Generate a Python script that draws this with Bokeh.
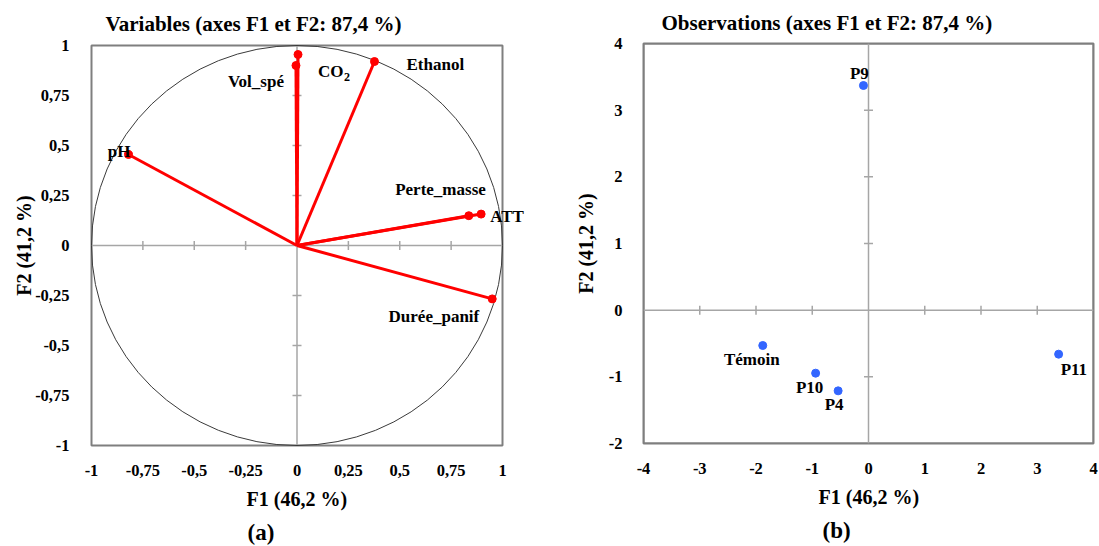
import math
from bokeh.plotting import figure
from bokeh.models import (ColumnDataSource, Range1d, FixedTicker, CustomJSTickFormatter,
                          Title, LabelSet)
from bokeh.layouts import row
from bokeh.embed import file_html
from bokeh.resources import INLINE

# ---- data: variables (correlation circle) ----
variables = ["Vol_spé", "CO₂", "Ethanol", "pH", "Perte_masse", "ATT", "Durée_panif"]
var_f1 = [-0.005, 0.005, 0.377, -0.82, 0.836, 0.896, 0.95]
var_f2 = [0.90, 0.955, 0.92, 0.455, 0.149, 0.157, -0.267]

# ---- data: observations ----
observations = ["P9", "Témoin", "P10", "P4", "P11"]
obs_f1 = [-0.09, -1.88, -0.94, -0.54, 3.38]
obs_f2 = [3.37, -0.53, -0.945, -1.21, -0.66]

# ---- tick labels ----
var_ticks = [-1, -0.75, -0.5, -0.25, 0, 0.25, 0.5, 0.75, 1]
obs_xticks = [-4, -3, -2, -1, 0, 1, 2, 3, 4]
obs_yticks = [-2, -1, 0, 1, 2, 3, 4]

# ---- label placement (styling; offsets in px, y positive = up) ----
var_align = ["right", "left", "left", "right", "right", "left", "right"]
var_dx = [-12, 20, 32, 2, 17, 9, -13]
var_dy = [-16, -17, -3, 3, 26, -2, -18]
obs_align = ["center", "center", "center", "center", "left"]
obs_dx = [-4, -11, -6, -4, 2]
obs_dy = [12, -14, -14, -14, -15]

FONT = "Liberation Serif"
FRAME = "#7f7f7f"
AXIS0 = "#a6a6a6"
comma_fmt = CustomJSTickFormatter(code="return tick.toString().replace('.', ',');")
plain_fmt = CustomJSTickFormatter(code="return tick.toString();")


def tfont(**kw):
    d = dict(text_font=FONT, text_font_style="bold", text_color="black")
    d.update(kw)
    return d


def style(p, title_offset, title_standoff):
    p.outline_line_color = None
    p.xgrid.visible = False
    p.ygrid.visible = False
    p.title.align = "left"
    p.title.offset = title_offset
    p.title.text_font = FONT
    p.title.text_font_size = "21px"
    p.title.text_font_style = "bold"
    p.title.text_color = "black"
    p.title.standoff = title_standoff
    for ax in (p.xaxis[0], p.yaxis[0]):
        ax.axis_line_color = None
        ax.major_tick_line_color = None
        ax.minor_tick_line_color = None
        ax.major_label_text_font = FONT
        ax.major_label_text_font_size = "16.5px"
        ax.major_label_text_font_style = "bold"
        ax.major_label_text_color = "black"
        ax.axis_label_text_font = FONT
        ax.axis_label_text_font_size = "20px"
        ax.axis_label_text_font_style = "bold"
        ax.axis_label_text_color = "black"


def bottom_titles(p, offset_f1, offset_sub, sub):
    p.add_layout(Title(text="F1 (46,2 %)", align="left", offset=offset_f1, standoff=15,
                       **tfont(text_font_size="20px")), "below")
    p.add_layout(Title(text=sub, align="left", offset=offset_sub, standoff=0,
                       **tfont(text_font_size="23px")), "below")


def cross_axes(p, xticks, yticks):
    x0, x1, y0, y1 = min(xticks), max(xticks), min(yticks), max(yticks)
    # plot frame
    p.quad(left=x0, right=x1, bottom=y0, top=y1, fill_color=None, line_color=FRAME, line_width=2)
    # axes through origin
    p.segment(x0=[x0, 0], y0=[0, y0], x1=[x1, 0], y1=[0, y1], line_color=AXIS0, line_width=1.5)
    xt = [t for t in xticks if t not in (0, x0, x1)]
    yt = [t for t in yticks if t not in (0, y0, y1)]
    p.scatter(x=xt, y=[0] * len(xt), marker="dash", size=9, angle=math.pi / 2,
              line_color=AXIS0, line_width=1.5)
    p.scatter(x=[0] * len(yt), y=yt, marker="dash", size=9,
              line_color=AXIS0, line_width=1.5)


def labels(p, src, size="17px"):
    p.add_layout(LabelSet(x="x", y="y", text="name", source=src, text_align="align",
                          x_offset="dx", y_offset="dy", text_baseline="middle",
                          **tfont(text_font_size=size)))


PAD = 2           # px of frame beyond the plotting box
RIGHT_EXTRA = 48  # px of frame to the right of the box (room for labels)

# ---------------- left: variables ----------------
W1, H1 = 411, 400
sx = W1 / (max(var_ticks) - min(var_ticks))
sy = H1 / (max(var_ticks) - min(var_ticks))
p1 = figure(frame_width=W1 + PAD + RIGHT_EXTRA, frame_height=H1 + 2 * PAD,
            min_border_left=91 - PAD, min_border_right=0, min_border_top=44 - PAD,
            min_border_bottom=102 - PAD,
            x_range=Range1d(min(var_ticks) - PAD / sx, max(var_ticks) + RIGHT_EXTRA / sx),
            y_range=Range1d(min(var_ticks) - PAD / sy, max(var_ticks) + PAD / sy),
            title="Variables (axes F1 et F2: 87,4 %)", y_axis_label="F2 (41,2 %)",
            toolbar_location=None, output_backend="svg")
style(p1, 14 + PAD, 16)
p1.xaxis[0].ticker = FixedTicker(ticks=var_ticks)
p1.yaxis[0].ticker = FixedTicker(ticks=var_ticks)
p1.xaxis[0].formatter = comma_fmt
p1.yaxis[0].formatter = comma_fmt
p1.xaxis[0].major_label_standoff = 13 - PAD
p1.yaxis[0].major_label_standoff = 16 - PAD
p1.yaxis[0].axis_label_standoff = -3
bottom_titles(p1, 155 + PAD, 156 + PAD, "(a)")
cross_axes(p1, var_ticks, var_ticks)

p1.ellipse(x=0, y=0, width=2, height=2, fill_color=None, line_color="#3a3a3a", line_width=1)
vsrc = ColumnDataSource(dict(x=var_f1, y=var_f2, x0=[0] * len(var_f1), y0=[0] * len(var_f1)))
p1.segment(x0="x0", y0="y0", x1="x", y1="y", source=vsrc, line_color="#ff0000", line_width=3)
p1.scatter(x="x", y="y", source=vsrc, size=8, fill_color="#ff0000", line_color="#ff0000")

# names: subscript "₂" drawn as a smaller separate text part
main_names = [n.replace("₂", "") for n in variables]
lsrc = ColumnDataSource(dict(x=var_f1, y=var_f2, name=main_names, align=var_align,
                             dx=var_dx, dy=var_dy))
labels(p1, lsrc)
sub_idx = [i for i, n in enumerate(variables) if "₂" in n]
ssrc = ColumnDataSource(dict(x=[var_f1[i] for i in sub_idx], y=[var_f2[i] for i in sub_idx],
                             name=["2" for i in sub_idx], align=["left" for i in sub_idx],
                             dx=[var_dx[i] + 26 for i in sub_idx], dy=[var_dy[i] - 5 for i in sub_idx]))
labels(p1, ssrc, size="12px")

# ---------------- right: observations ----------------
p2 = figure(frame_width=450, frame_height=400, min_border_left=93, min_border_right=6,
            min_border_top=43, min_border_bottom=103, x_range=Range1d(-4, 4), y_range=Range1d(-2, 4),
            title="Observations (axes F1 et F2: 87,4 %)",
            y_axis_label="F2 (41,2 %)", toolbar_location=None, output_backend="svg")
style(p2, 18, 17)
p2.outline_line_color = FRAME
p2.outline_line_width = 2
p2.xaxis[0].ticker = FixedTicker(ticks=obs_xticks)
p2.yaxis[0].ticker = FixedTicker(ticks=obs_yticks)
p2.xaxis[0].formatter = plain_fmt
p2.yaxis[0].formatter = plain_fmt
p2.xaxis[0].major_label_standoff = 13
p2.yaxis[0].major_label_standoff = 15
p2.yaxis[0].axis_label_standoff = 9
bottom_titles(p2, 175, 179, "(b)")
cross_axes(p2, obs_xticks, obs_yticks)

osrc = ColumnDataSource(dict(x=obs_f1, y=obs_f2, name=observations, align=obs_align,
                             dx=obs_dx, dy=obs_dy))
p2.scatter(x="x", y="y", source=osrc, size=8, fill_color="#3366ff", line_color="#3366ff")
labels(p2, osrc)

layout = row(p1, p2)
open("out.html", "w").write(file_html(layout, INLINE))
